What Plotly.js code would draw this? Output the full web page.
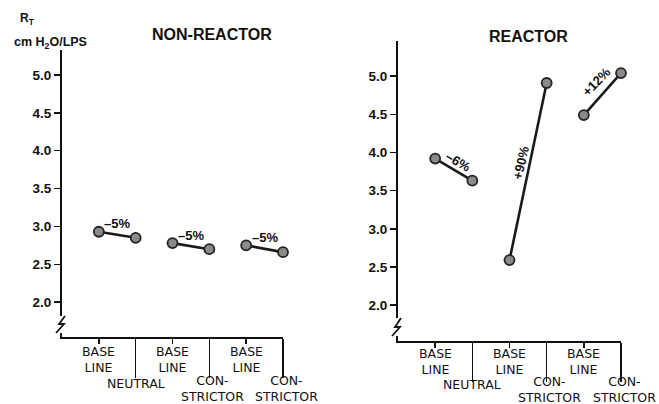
<!DOCTYPE html>
<html>
<head>
<meta charset="utf-8">
<script src="https://cdn.plot.ly/plotly-3.0.1.min.js"></script>
<style>html,body{margin:0;padding:0;background:#fff;}#chart{width:659px;height:404px;}</style>
</head>
<body>
<div id="chart"></div>
<script>
// ---- data ----
const positions = [1, 2, 3, 4, 5, 6];
const baselineLabel = 'BASE<br>LINE';
const conditionLabels = ['NEUTRAL', 'CON-<br>STRICTOR', 'CON-<br>STRICTOR'];
const nonReactorBaseline = [2.93, 2.78, 2.75];
const nonReactorAfter = [2.85, 2.70, 2.66];
const nonReactorChange = ['\u20135%', '\u20135%', '\u20135%'];
const reactorBaseline = [3.92, 2.59, 4.49];
const reactorAfter = [3.63, 4.91, 5.04];
const reactorChange = ['\u20136%', '+90%', '+12%'];
const yTicks = [2.0, 2.5, 3.0, 3.5, 4.0, 4.5, 5.0];

// ---- helpers (layout, pixel -> paper) ----
const W = 659, H = 404;
const px = v => v / W;
const py = v => 1 - v / H;
const FONT = 'Liberation Sans, Arial, sans-serif';
const XFONT = 'DejaVu Sans, sans-serif';

const traces = [];
function addPairs(base, after, xa, ya) {
  for (let i = 0; i < base.length; i++) {
    traces.push({
      type: 'scatter', mode: 'lines+markers',
      x: [positions[2 * i], positions[2 * i + 1]],
      y: [base[i], after[i]],
      xaxis: xa, yaxis: ya, cliponaxis: false, showlegend: false,
      line: {color: '#1a1a1a', width: 2.6},
      marker: {size: 10, color: '#8a8a8a', line: {color: '#222', width: 1.8}}
    });
  }
}
addPairs(nonReactorBaseline, nonReactorAfter, 'x', 'y');
addPairs(reactorBaseline, reactorAfter, 'x2', 'y2');

function xAxis(dom, anchor) {
  return {
    domain: dom, anchor: anchor, range: [0, 6], showgrid: false, zeroline: false,
    showline: true, linecolor: '#111', linewidth: 2,
    tickmode: 'array', tickvals: [1, 3, 5], showticklabels: false,
    ticks: 'outside', ticklen: 5, tickwidth: 1.5, tickcolor: '#111',
    minor: {tickmode: 'array', tickvals: [2, 4, 6], ticks: 'outside', ticklen: 39, tickwidth: 1.5, tickcolor: '#111'},
    fixedrange: true
  };
}
function yAxis(dom, anchor, range) {
  return {
    domain: dom, anchor: anchor, range: range, showgrid: false, zeroline: false,
    showline: true, linecolor: '#111', linewidth: 2,
    tickmode: 'array', tickvals: yTicks, tickformat: '.1f',
    ticks: 'outside', ticklen: 6, tickwidth: 1.5, tickcolor: '#111',
    tickfont: {family: FONT, size: 13.5, color: '#111', weight: 'bold'},
    fixedrange: true
  };
}

const annotations = [];
function txt(text, x, y, xref, yref, font, opts) {
  annotations.push(Object.assign({
    text: text, x: x, y: y, xref: xref, yref: yref, showarrow: false,
    xanchor: 'center', yanchor: 'middle', font: font
  }, opts || {}));
}
const boldF = (s, fam) => ({family: fam || FONT, size: s, color: '#111', weight: 'bold'});
const normF = (s, fam) => ({family: fam || FONT, size: s, color: '#111'});

// titles
txt('NON-REACTOR', px(212), py(35), 'paper', 'paper', boldF(16));
txt('REACTOR', px(528), py(37), 'paper', 'paper', boldF(16));
// y axis title
txt('R<sub>T</sub>', px(27), py(19), 'paper', 'paper', boldF(12));
txt('cm H<sub>2</sub>O/LPS', px(50), py(43), 'paper', 'paper', boldF(12.5));

// x category labels
function xLabels(xref, baseY, condY) {
  [1, 3, 5].forEach(v => txt(baselineLabel, v, py(baseY), xref, 'paper', normF(12.5, XFONT)));
  [2, 4, 6].forEach((v, i) => txt(conditionLabels[i], v, py(i === 0 ? condY - 5 : condY), xref, 'paper',
                                  normF(12.5, XFONT), {xshift: i === 0 ? 0 : 3}));
}
xLabels('x', 359, 388);
xLabels('x2', 361, 389);

// change labels
nonReactorChange.forEach((t, i) => {
  txt(t, positions[2 * i] + 0.5, (nonReactorBaseline[i] + nonReactorAfter[i]) / 2, 'x', 'y', boldF(13),
      {yshift: 11});
});
const rShifts = [[4, 8, 30], [-7, 9, -77], [-6, 13, -46]];
reactorChange.forEach((t, i) => {
  txt(t, positions[2 * i] + 0.5, (reactorBaseline[i] + reactorAfter[i]) / 2, 'x2', 'y2', boldF(13),
      {xshift: rShifts[i][0], yshift: rShifts[i][1], textangle: rShifts[i][2]});
});

// axis break marks
function breakMark(x0, yTop, yBot) {
  return [
    {type: 'rect', xref: 'paper', yref: 'paper', x0: px(x0 - 3), x1: px(x0 + 3), y0: py(yBot), y1: py(yTop),
     fillcolor: '#fff', line: {width: 0}, layer: 'above'},
    {type: 'path', xref: 'paper', yref: 'paper', layer: 'above',
     path: `M ${px(x0 - 6)} ${py(yBot)} L ${px(x0 + 2)} ${py(yBot - 9)} L ${px(x0 - 3)} ${py(yBot - 9)} L ${px(x0 + 3)} ${py(yTop)}`,
     line: {color: '#111', width: 1.8}}
  ];
}

const layout = {
  width: W, height: H, margin: {l: 0, r: 0, t: 0, b: 0},
  paper_bgcolor: '#fff', plot_bgcolor: 'rgba(0,0,0,0)',
  showlegend: false,
  xaxis: xAxis([px(62), px(283)], 'y'),
  yaxis: yAxis([py(337), py(50)], 'x', [1.54, 5.33]),
  xaxis2: xAxis([px(398), px(621)], 'y2'),
  yaxis2: yAxis([py(341), py(41)], 'x2', [1.53, 5.46]),
  annotations: annotations,
  shapes: breakMark(62, 316, 333).concat(breakMark(398, 318, 336))
};

Plotly.newPlot('chart', traces, layout, {staticPlot: true, displayModeBar: false});
</script>
</body>
</html>
